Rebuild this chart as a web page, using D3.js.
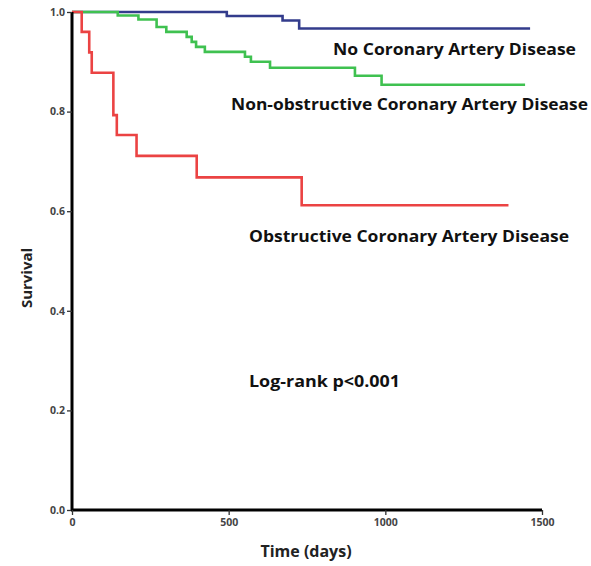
<!DOCTYPE html>
<meta charset="utf-8">
<style>
  body { margin: 0; background: #fff; }
  text { font-family: "Open Sans", "DejaVu Sans", sans-serif; }
</style>
<svg width="591" height="566"></svg>
<script src="https://cdn.jsdelivr.net/npm/d3@7"></script>
<script>
	// step points: [days, survival]
	var noCad = [[0, 1], [494, 0.992], [672, 0.983], [725, 0.967], [1462, 0.967]];
	var nonObstructive = [[0, 1], [146, 0.993], [212, 0.985], [270, 0.970], [301, 0.960],
		[366, 0.950], [382, 0.940], [396, 0.930], [424, 0.920], [552, 0.910], [571, 0.900],
		[632, 0.888], [903, 0.872], [988, 0.854], [1446, 0.854]];
	var obstructive = [[0, 1], [31, 0.960], [55, 0.919], [63, 0.878], [132, 0.793], [143, 0.753],
		[206, 0.711], [398, 0.668], [733, 0.612], [1393, 0.612]];
	var xTicks = [0, 500, 1000, 1500];
	var yTicks = [0, 0.2, 0.4, 0.6, 0.8, 1.0];

	var svg = d3.select("svg");
	var x = d3.scaleLinear().domain([0, 1500]).range([72, 542]);
	var y = d3.scaleLinear().domain([0, 1]).range([510, 12]);

	var line = d3.line()
		.x(function(d) { return x(d[0]); })
		.y(function(d) { return y(d[1]); })
		.curve(d3.curveStepAfter);

	// curves: blue under green under red
	var curves = [
		{data: noCad, color: "#333c8c"},
		{data: nonObstructive, color: "#3fc150"},
		{data: obstructive, color: "#eb4343"}
	];
	svg.selectAll("path.curve")
		.data(curves)
		.enter().append("path")
		.attr("class", "curve")
		.attr("d", function(d) { return line(d.data); })
		.attr("fill", "none")
		.attr("stroke", function(d) { return d.color; })
		.attr("stroke-width", 2.6);

	// axes
	var yAxis = svg.append("g")
		.attr("transform", "translate(72,0)")
		.call(d3.axisLeft(y).tickValues(yTicks).tickFormat(d3.format(".1f")).tickSize(5).tickPadding(2));
	var xAxis = svg.append("g")
		.attr("transform", "translate(0,510)")
		.call(d3.axisBottom(x).tickValues(xTicks).tickFormat(d3.format("d")).tickSize(5).tickPadding(4));

	[yAxis, xAxis].forEach(function(a) {
		a.select(".domain").attr("stroke", "#000").attr("stroke-width", 3);
		a.selectAll(".tick line").attr("stroke", "#333").attr("stroke-width", 1.3);
		a.selectAll(".tick text")
			.attr("fill", "#444")
			.style("font-size", "10.5px")
			.style("font-weight", "bold");
	});
	yAxis.select(".domain").attr("d", "M0,12V511");
	xAxis.select(".domain").attr("d", "M71,0H542");

	// axis titles
	svg.append("text")
		.attr("transform", "translate(32,278) rotate(-90)")
		.attr("text-anchor", "middle")
		.style("font-size", "15px")
		.style("font-weight", "bold")
		.attr("fill", "#222")
		.text("Survival");
	svg.append("text")
		.attr("x", 306).attr("y", 557)
		.attr("text-anchor", "middle")
		.style("font-size", "16px")
		.style("font-weight", "bold")
		.attr("fill", "#222")
		.text("Time (days)");

	// curve labels
	var labels = [
		{text: "No Coronary Artery Disease", x: 333, y: 55, w: 243},
		{text: "Non-obstructive Coronary Artery Disease", x: 231, y: 110, w: 357},
		{text: "Obstructive Coronary Artery Disease", x: 249, y: 242, w: 320},
		{text: "Log-rank p<0.001", x: 249, y: 387, w: 151}
	];
	svg.selectAll("text.label")
		.data(labels)
		.enter().append("text")
		.attr("class", "label")
		.attr("x", function(d) { return d.x; })
		.attr("y", function(d) { return d.y; })
		.attr("textLength", function(d) { return d.w; })
		.attr("lengthAdjust", "spacingAndGlyphs")
		.style("font-size", "16px")
		.style("font-weight", "bold")
		.attr("fill", "#111")
		.text(function(d) { return d.text; });
</script>
